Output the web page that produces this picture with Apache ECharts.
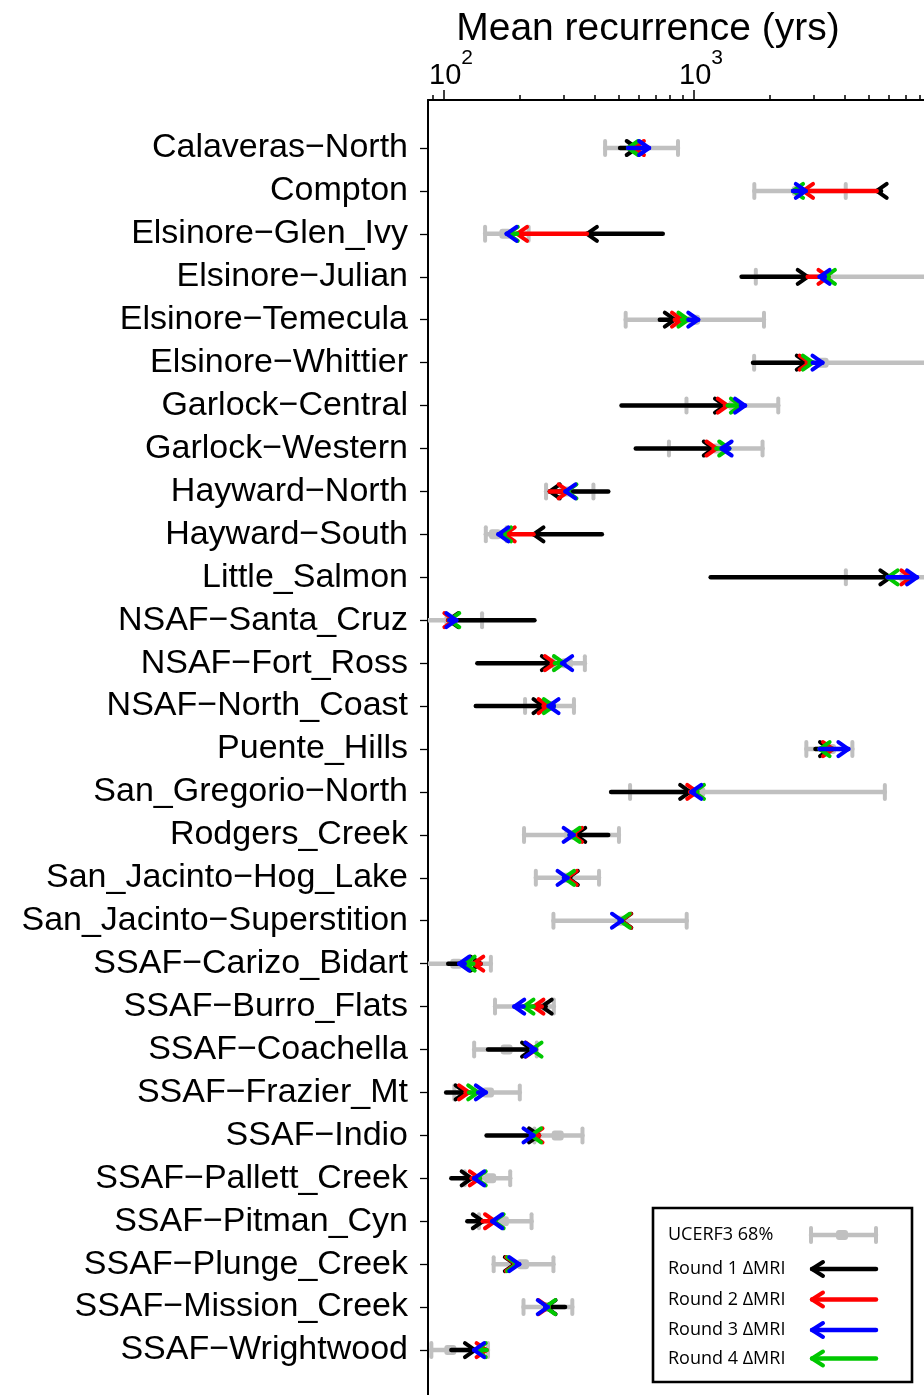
<!DOCTYPE html>
<html><head><meta charset="utf-8">
<script src="https://cdn.jsdelivr.net/npm/echarts@6/dist/echarts.min.js"></script>
<style>html,body{margin:0;padding:0;background:#fff;overflow:hidden}#c{width:924px;height:1395px}</style>
</head><body><div id="c"></div><script>
const categories = ['Calaveras\u2212North','Compton','Elsinore\u2212Glen_Ivy','Elsinore\u2212Julian','Elsinore\u2212Temecula','Elsinore\u2212Whittier','Garlock\u2212Central','Garlock\u2212Western','Hayward\u2212North','Hayward\u2212South','Little_Salmon','NSAF\u2212Santa_Cruz','NSAF\u2212Fort_Ross','NSAF\u2212North_Coast','Puente_Hills','San_Gregorio\u2212North','Rodgers_Creek','San_Jacinto\u2212Hog_Lake','San_Jacinto\u2212Superstition','SSAF\u2212Carizo_Bidart','SSAF\u2212Burro_Flats','SSAF\u2212Coachella','SSAF\u2212Frazier_Mt','SSAF\u2212Indio','SSAF\u2212Pallett_Creek','SSAF\u2212Pitman_Cyn','SSAF\u2212Plunge_Creek','SSAF\u2212Mission_Creek','SSAF\u2212Wrightwood'];
// UCERF3 68% range and mean (yrs)
const ucerfLow  = [441,1743,146,1767,533,1740,933,794,256,147,4050,75,275,211,2814,555,209,233,274,78,160,132,110,230,121,138,158,208,89];
const ucerfMean = [610,2600,176,3400,1000,3270,1450,1250,305,160,7000,106,310,265,3500,1050,320,310,510,112,250,178,150,285,153,172,207,260,106];
const ucerfHigh = [863,4045,218,12000,1905,12000,2173,1880,396,178,13000,142,366,331,4300,5800,501,417,935,154,275,235,201,358,184,224,274,326,150];
// starting MRI and the MRI after each round (yrs)
const startMRI = [506,5600,750,1550,730,1722,513,585,454,428,1166,230,136,134,3060,466,454,320,520,104,255,150,102,148,107,124,190,305,107];
const round1   = [590,5380,373,2850,838,2825,1330,1200,265,228,6100,104,270,250,3500,965,335,313,512,140,246,225,122,240,129,143,192,255,133];
const round2   = [575,2730,196,3450,895,2900,1365,1230,315,175,7400,110,278,262,3600,1030,325,310,510,131,228,233,126,226,139,160,194,262,148];
const round4   = [545,2490,180,3340,950,2990,1540,1383,309,169,5950,105,302,275,3180,1000,318,302,505,121,208,224,137,223,134,158,196,254,134];
const round3   = [661,2800,178,3180,1040,3265,1600,1290,306,165,7800,112,297,262,4145,975,330,312,515,115,191,232,147,228,132,156,200,260,132];
const majorTicks = [100,1000,10000];
const minorTicks = [90,200,300,400,500,600,700,800,900,2000,3000,4000,5000,6000,7000,8000,9000];
const tickLabels = [100,1000];
const legendLabels = ['UCERF3 68%','Round 1 \u0394MRI','Round 2 \u0394MRI','Round 3 \u0394MRI','Round 4 \u0394MRI'];

const GRAY = '#c0c0c0';
const SANS = 'Liberation Sans';
const idx = categories.map((_, i) => i);

const steps = [
  {color:'#000000', from:startMRI, to:round1},
  {color:'#ff0000', from:round1, to:round2},
  {color:'#00c800', from:round2, to:round4},
  {color:'#0000ff', from:round4, to:round3}
];

function chevron(x, y, dir, color, d, h) {
  return {type:'polyline', shape:{points:[[x - dir*d, y - h],[x, y],[x - dir*d, y + h]]},
    style:{stroke:color, fill:null, lineWidth:4, lineCap:'round', lineJoin:'round'}};
}

function arrowRender(color) {
  return function (params, api) {
    const p1 = api.coord([api.value(1), api.value(0)]);
    const p2 = api.coord([api.value(2), api.value(0)]);
    const dir = p2[0] >= p1[0] ? 1 : -1;
    return {type:'group', children:[
      {type:'line', shape:{x1:p1[0], y1:p1[1], x2:p2[0], y2:p2[1]}, style:{stroke:color, lineWidth:4.5, lineCap:'round'}},
      chevron(p2[0], p2[1], dir, color, 10, 7)
    ]};
  };
}

function grayRender(params, api) {
  const row = api.value(0);
  const pl = api.coord([api.value(1), row]);
  const pm = api.coord([api.value(2), row]);
  const ph = api.coord([api.value(3), row]);
  const y = pm[1];
  const st = {stroke:GRAY, lineWidth:4.5, lineCap:'round'};
  return {type:'group', children:[
    {type:'line', shape:{x1:pl[0], y1:y, x2:ph[0], y2:y}, style:st},
    {type:'line', shape:{x1:pl[0], y1:y-7, x2:pl[0], y2:y+7}, style:{stroke:GRAY, lineWidth:4, lineCap:'round'}},
    {type:'line', shape:{x1:ph[0], y1:y-7, x2:ph[0], y2:y+7}, style:{stroke:GRAY, lineWidth:4, lineCap:'round'}},
    {type:'rect', shape:{x:pm[0]-6, y:y-5, width:12, height:10, r:3}, style:{fill:GRAY}}
  ]};
}

const series = [{
  type:'custom', name:'UCERF3 68%', clip:true, xAxisIndex:0, yAxisIndex:0,
  renderItem: grayRender, encode:{x:[1,2,3], y:0},
  data: idx.map(i => [i, ucerfLow[i], ucerfMean[i], ucerfHigh[i]])
}];
steps.forEach(s => {
  series.push({
    type:'custom', clip:true, xAxisIndex:0, yAxisIndex:0,
    renderItem: arrowRender(s.color), encode:{x:[1,2], y:0},
    data: idx.map(i => [i, s.from[i], s.to[i]])
  });
});

// legend drawn as graphic
const legX = 653, legY = 1208;
const rowsY = [1235, 1269, 1299.5, 1330, 1358.5];
const legendColors = [GRAY, '#000000', '#ff0000', '#0000ff', '#00c800'];
const legendChildren = [
  {type:'rect', shape:{x:legX, y:legY, width:259, height:174}, style:{fill:'#fff', stroke:'#000', lineWidth:2.6}}
];
legendLabels.forEach((t, k) => {
  legendChildren.push({type:'text', x:668, y:rowsY[k], style:{text:t, fontSize:18, fontFamily:'Open Sans', fill:'#000', align:'left', verticalAlign:'middle'}});
  const y = rowsY[k];
  if (k === 0) {
    legendChildren.push({type:'line', shape:{x1:811, y1:y, x2:876, y2:y}, style:{stroke:GRAY, lineWidth:4.5, lineCap:'round'}});
    legendChildren.push({type:'line', shape:{x1:811, y1:y-7, x2:811, y2:y+7}, style:{stroke:GRAY, lineWidth:4, lineCap:'round'}});
    legendChildren.push({type:'line', shape:{x1:876, y1:y-7, x2:876, y2:y+7}, style:{stroke:GRAY, lineWidth:4, lineCap:'round'}});
    legendChildren.push({type:'rect', shape:{x:836, y:y-5, width:12, height:10, r:3}, style:{fill:GRAY}});
  } else {
    legendChildren.push({type:'line', shape:{x1:812, y1:y, x2:876, y2:y}, style:{stroke:legendColors[k], lineWidth:4.5, lineCap:'round'}});
    legendChildren.push(chevron(812, y, -1, legendColors[k], 11, 7));
  }
});

const chart = echarts.init(document.getElementById('c'), null, {renderer:'canvas'});
const logMin = 86.3, logMax = 10000;
chart.setOption({
  animation:false,
  backgroundColor:'#fff',
  grid:{left:428, top:100, width:516, height:(29.2 + 1.118) * 42.93, outerBoundsMode:'none', containLabel:false},
  xAxis:[{
    type:'log', logBase:10, position:'top', min:logMin, max:logMax,
    axisLine:{show:true, onZero:false, lineStyle:{color:'#000', width:2}},
    axisTick:{show:true, length:10, customValues:majorTicks, lineStyle:{color:'#000', width:1.5}},
    axisLabel:{customValues:tickLabels, margin:10, color:'#000',
      formatter: v => '{b|10}{s|' + Math.round(Math.log10(v)) + '}',
      rich:{
        b:{fontSize:29, fontFamily:SANS, color:'#000', verticalAlign:'bottom', padding:[0,0,0,14]},
        s:{fontSize:21, fontFamily:SANS, color:'#000', verticalAlign:'top', padding:[0,0,21,0]}
      }},
    splitLine:{show:false}
  },{
    type:'log', logBase:10, position:'top', min:logMin, max:logMax,
    axisLine:{show:false, onZero:false},
    axisTick:{show:true, length:5, customValues:minorTicks, lineStyle:{color:'#000', width:1.5}},
    axisLabel:{show:false},
    splitLine:{show:false}
  }],
  yAxis:{
    type:'value', inverse:true, min:-1.118, max:29.2,
    axisLine:{show:true, onZero:false, lineStyle:{color:'#000', width:2}},
    axisTick:{show:true, length:8, customValues:idx, lineStyle:{color:'#000', width:1.3}},
    axisLabel:{customValues:idx, formatter: v => categories[Math.round(v)], fontSize:34, fontFamily:SANS, color:'#000', margin:20, padding:[0,0,8,0]},
    splitLine:{show:false}
  },
  graphic:[
    {type:'text', x:648, y:29, z:100, style:{text:'Mean recurrence (yrs)', fontSize:39, fontFamily:SANS, fill:'#000', align:'center', verticalAlign:'middle'}},
    {type:'group', z:100, children:legendChildren}
  ],
  series: series
});
</script></body></html>
